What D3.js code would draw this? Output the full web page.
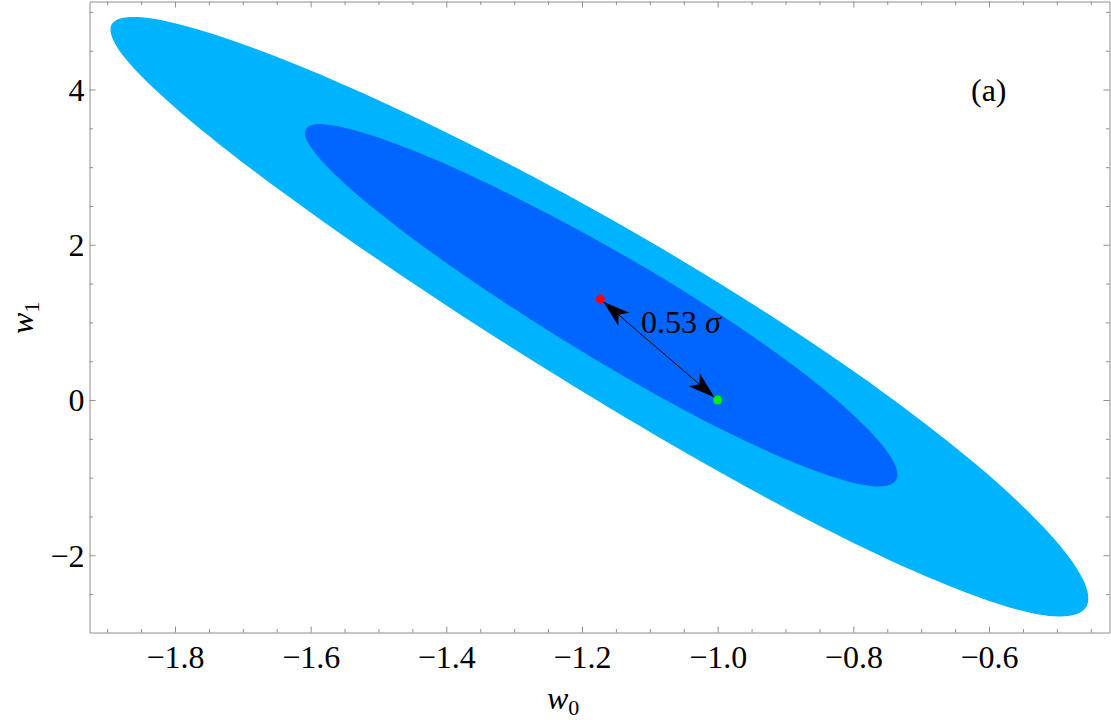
<!DOCTYPE html>
<html><head><meta charset="utf-8">
<script src="https://cdn.jsdelivr.net/npm/d3@7"></script>
<style>body{margin:0;background:#fff}</style>
</head><body>
<svg id="chart" width="1111" height="720"></svg>
<script>
// ---- data ----
const xDomain = [-1.926, -0.4224];
const yDomain = [-2.995, 5.134];
const xMajorTicks = [-1.8, -1.6, -1.4, -1.2, -1.0, -0.8, -0.6];
const xMinorTicks = [-1.9, -1.85, -1.75, -1.7, -1.65, -1.55, -1.5, -1.45, -1.35, -1.3, -1.25, -1.15, -1.1, -1.05, -0.95, -0.9, -0.85, -0.75, -0.7, -0.65, -0.55, -0.5, -0.45];
const yMajorTicks = [-2, 0, 2, 4];
const yMinorTicks = [-2.5, -1.5, -1, -0.5, 0.5, 1, 1.5, 2.5, 3, 3.5, 4.5, 5];

// outer (lighter) confidence region boundary
const outerW0 = [-0.4568, -0.4984, -0.5850, -0.7108, -0.8674, -1.0446, -1.2305, -1.4132, -1.5802, -1.7202, -1.8234, -1.8826, -1.8930, -1.8537, -1.7670, -1.6390, -1.4786, -1.2970, -1.1071, -0.9224, -0.7553, -0.6175, -0.5181, -0.4634];
const outerW1 = [-2.667, -2.788, -2.631, -2.204, -1.542, -0.693, 0.276, 1.295, 2.291, 3.195, 3.951, 4.510, 4.844, 4.933, 4.776, 4.382, 3.775, 2.991, 2.078, 1.091, 0.095, -0.841, -1.653, -2.278];
// inner (darker) confidence region boundary
const innerW0 = [-0.7370, -0.7626, -0.8158, -0.8929, -0.9886, -1.0966, -1.2097, -1.3203, -1.4210, -1.5050, -1.5665, -1.6014, -1.6069, -1.5825, -1.5299, -1.4525, -1.3557, -1.2460, -1.1313, -1.0194, -0.9181, -0.8343, -0.7741, -0.7409];
const innerW1 = [-1.031, -1.113, -1.029, -0.787, -0.402, 0.098, 0.676, 1.291, 1.898, 2.456, 2.926, 3.278, 3.491, 3.554, 3.463, 3.226, 2.858, 2.381, 1.828, 1.233, 0.634, 0.072, -0.416, -0.792];

const redPoint = [-1.173, 1.30];
const greenPoint = [-1.0, 0.0];
const arrowLabel = "0.53 ";
const panelLabel = "(a)";

(function () {
// ---- layout ----
const mLeft = 89.5, mRight = 1109.5, mTop = 1.5, mBottom = 632.5;
const serif = "'Liberation Serif','Times New Roman',serif";
const frameColor = "#8f8f8f";

const svg = d3.select("#chart");
const x = d3.scaleLinear().domain(xDomain).range([mLeft, mRight]);
const y = d3.scaleLinear().domain(yDomain).range([mBottom, mTop]);

const defs = svg.append("defs");
defs.append("clipPath").attr("id", "clip").append("rect")
  .attr("x", mLeft).attr("y", mTop).attr("width", mRight - mLeft).attr("height", mBottom - mTop);

const line = d3.line().x(d => x(d[0])).y(d => y(d[1])).curve(d3.curveCatmullRomClosed.alpha(0));
const outer = outerW0.map((v, i) => [v, outerW1[i]]);
const inner = innerW0.map((v, i) => [v, innerW1[i]]);

const plot = svg.append("g").attr("clip-path", "url(#clip)");
plot.append("path").attr("d", line(outer)).attr("fill", "rgb(0,179,255)");
plot.append("path").attr("d", line(inner)).attr("fill", "rgb(0,102,255)");

// arrow
defs.append("marker").attr("id", "head")
  .attr("markerUnits", "userSpaceOnUse")
  .attr("viewBox", "-30 -12 32 24")
  .attr("refX", 0).attr("refY", 0)
  .attr("markerWidth", 32).attr("markerHeight", 24)
  .attr("orient", "auto-start-reverse")
  .append("path").attr("d", "M0,0 L-27,-8.5 L-20,0 L-27,8.5 Z").attr("fill", "#000");

const p1 = [x(redPoint[0]), y(redPoint[1])];
const p2 = [x(greenPoint[0]), y(greenPoint[1])];
const dx = p2[0] - p1[0], dy = p2[1] - p1[1];
const len = Math.hypot(dx, dy);
const ux = dx / len, uy = dy / len;
const gap = 4;
svg.append("line")
  .attr("x1", p1[0] + ux * gap).attr("y1", p1[1] + uy * gap)
  .attr("x2", p2[0] - ux * gap).attr("y2", p2[1] - uy * gap)
  .attr("stroke", "#000").attr("stroke-width", 1)
  .attr("marker-start", "url(#head)").attr("marker-end", "url(#head)");

svg.append("circle").attr("cx", p1[0]).attr("cy", p1[1]).attr("r", 4.5).attr("fill", "#ff0000");
svg.append("circle").attr("cx", p2[0]).attr("cy", p2[1]).attr("r", 4.5).attr("fill", "#00f000");

const lab = svg.append("text").attr("x", 641).attr("y", 333)
  .attr("font-family", serif).attr("font-size", 32).attr("fill", "#000");
lab.append("tspan").text(arrowLabel);
lab.append("tspan").attr("font-style", "italic").text("σ");

svg.append("text").attr("x", 971).attr("y", 101)
  .attr("font-family", serif).attr("font-size", 32).attr("fill", "#000").text(panelLabel);

// ---- frame & axes ----
function styleAxis(g) {
  g.select(".domain").attr("stroke", frameColor);
  g.selectAll(".tick line").attr("stroke", frameColor);
}
const fmtX = d3.format(".1f"), fmtY = d3.format("d");

const gb = svg.append("g").attr("transform", `translate(0,${mBottom})`)
  .call(d3.axisBottom(x).tickValues(xMajorTicks).tickSize(-6).tickSizeOuter(0).tickFormat(fmtX));
styleAxis(gb);
gb.selectAll("text").attr("y", 35).attr("dy", 0)
  .attr("font-family", serif).attr("font-size", 32).attr("fill", "#000");
const gbm = svg.append("g").attr("transform", `translate(0,${mBottom})`)
  .call(d3.axisBottom(x).tickValues(xMinorTicks).tickSize(-3.5).tickSizeOuter(0).tickFormat(""));
styleAxis(gbm); gbm.select(".domain").remove();

const gt = svg.append("g").attr("transform", `translate(0,${mTop})`)
  .call(d3.axisTop(x).tickValues(xMajorTicks).tickSize(-6).tickSizeOuter(0).tickFormat(""));
styleAxis(gt);
const gtm = svg.append("g").attr("transform", `translate(0,${mTop})`)
  .call(d3.axisTop(x).tickValues(xMinorTicks).tickSize(-3.5).tickSizeOuter(0).tickFormat(""));
styleAxis(gtm); gtm.select(".domain").remove();

const gl = svg.append("g").attr("transform", `translate(${mLeft},0)`)
  .call(d3.axisLeft(y).tickValues(yMajorTicks).tickSize(-6).tickSizeOuter(0).tickFormat(fmtY));
styleAxis(gl);
gl.selectAll("text").attr("x", -5).attr("dy", "0.34em")
  .attr("font-family", serif).attr("font-size", 32).attr("fill", "#000");
const glm = svg.append("g").attr("transform", `translate(${mLeft},0)`)
  .call(d3.axisLeft(y).tickValues(yMinorTicks).tickSize(-3.5).tickSizeOuter(0).tickFormat(""));
styleAxis(glm); glm.select(".domain").remove();

const gr = svg.append("g").attr("transform", `translate(${mRight},0)`)
  .call(d3.axisRight(y).tickValues(yMajorTicks).tickSize(-6).tickSizeOuter(0).tickFormat(""));
styleAxis(gr);
const grm = svg.append("g").attr("transform", `translate(${mRight},0)`)
  .call(d3.axisRight(y).tickValues(yMinorTicks).tickSize(-3.5).tickSizeOuter(0).tickFormat(""));
styleAxis(grm); grm.select(".domain").remove();

// axis titles
const xt = svg.append("text").attr("x", 547).attr("y", 709)
  .attr("font-family", serif).attr("font-size", 32).attr("fill", "#000");
xt.append("tspan").attr("font-style", "italic").text("w");
xt.append("tspan").attr("font-size", 22).attr("dy", 6).text("0");

const yt = svg.append("text").attr("transform", "translate(33,334) rotate(-90)")
  .attr("font-family", serif).attr("font-size", 32).attr("fill", "#000");
yt.append("tspan").attr("font-style", "italic").text("w");
yt.append("tspan").attr("font-size", 22).attr("dy", 6).text("1");
})();
</script>
</body></html>
